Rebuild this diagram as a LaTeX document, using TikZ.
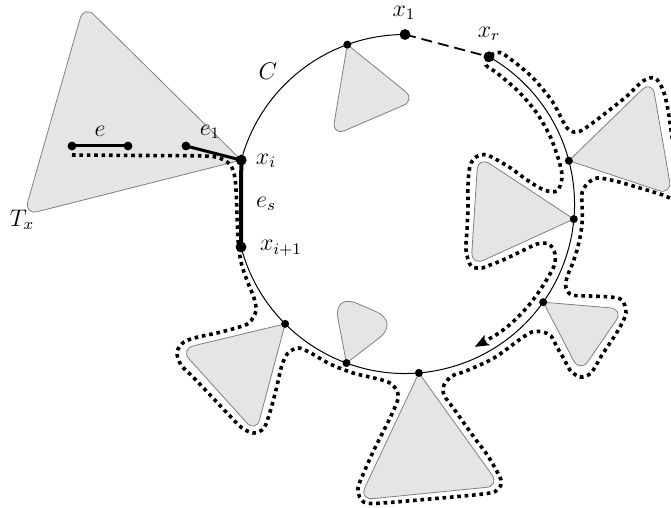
\documentclass[tikz,border=0pt]{standalone}
\usetikzlibrary{arrows.meta}
\begin{document}
\begin{tikzpicture}[x=0.5pt,y=-0.5pt,
  tri/.style={fill=gray!20, draw=gray, line width=0.4pt, rounded corners=7pt},
  circ/.style={line width=0.5pt},
  tour/.style={line width=1.8pt, dash pattern=on 1.8pt off 1.9pt},
  edgeline/.style={line width=1.5pt},
  dashline/.style={line width=0.9pt, dash pattern=on 5.5pt off 3pt},
  lbl/.style={font=\fontsize{12}{14}\selectfont, inner sep=0pt}]
\useasboundingbox (0,0) rectangle (671,508);
% points on the circle C (centre (405,204), radius 169.5)
\begin{scope}[shift={(405,204)}]
  \coordinate (x1) at (-90:169.5);
  \coordinate (xr) at (-60.3:169.5);
  \coordinate (A1) at (-109.9:169.5);
  \coordinate (xi) at (-165:169.5);
  \coordinate (xii) at (165.3:169.5);
  \coordinate (A8) at (135:169.5);
  \coordinate (A7) at (110.2:169.5);
  \coordinate (A6) at (85.3:169.5);
  \coordinate (A5) at (35.4:169.5);
  \coordinate (A4) at (5.1:169.5);
  \coordinate (A3) at (-14.8:169.5);
\end{scope}
% subtrees
\path[tri] (xi) -- (84,5) -- (24,215) -- (xi);
\path[tri] (A1) -- (416,100) -- (332,136) -- (A1);
\path[tri] (A3) -- (652,80) -- (672,195) -- (A3);
\path[tri] (A4) -- (478,156) -- (471,266) -- (A4);
\path[tri] (A5) -- (624,309) -- (580,373) -- (A5);
\path[tri] (A6) -- (359,500) -- (500,486) -- (A6);
\path[tri, rounded corners=13pt] (A7) -- (333,293) -- (400,322) -- (A7);
\path[tri] (A8) -- (180,349) -- (256,433) -- (A8);
% cycle C
\draw[circ] (x1) arc[start angle=-90, end angle=-165, radius=169.5];
\draw[circ] (xii) arc[start angle=165.3, end angle=-60.3, radius=169.5];
\draw[dashline] (x1) -- (xr);
% tour
\draw[tour, -{Stealth[length=7pt, width=5.5pt, inset=1.5pt]}] plot[smooth, tension=0.5] coordinates {
(72,155) (140,155.5) (205,156) (222,159) (231,166) (235,178) (236.5,200) (237.5,230)
(239,250) (242,266) (248,283) (254,298) (256,311) (249,323) (236,328) (217,333) (198,337)
(184,342) (177,352) (181,365) (194,378) (212,397) (229,415) (242,428) (254,433) (264,428)
(270,412) (276,390) (282,365) (288,353) (298,348) (309,352) (330,364) (353,373) (374,378)
(388,382) (396,389) (398,399) (390,418) (383,432) (373,452) (365,470) (358,488) (361,499)
(372,503.5) (430,499) (487,493.5) (498,489) (501,480) (488,456) (476,440) (466,426) (454,409)
(444,395) (444,385) (452,376) (466,371) (494,358) (519,340) (532,332) (543,332) (551,336)
(557,347) (564,359) (570,370) (580,377) (591,373) (602,355) (612,340) (620,327) (626,313)
(622,300) (610,297) (590,296) (572,295) (566,288) (567,277) (572,265) (577,250) (580.5,235)
(582.3,219.5) (582,204) (582,193) (587,184) (597,178) (615,181) (640,188) (663,195) (676,200)
(681,190) (674,150) (668,110) (663,90) (655,78) (643,81) (627,96) (607,112) (587,127) (577,132)
(567,128) (552,101) (532,77) (513,61) (500,52.5) (490,56) (486,65) (497,73) (518,91) (536,112)
(550,136) (559.5,162.6) (562,178) (557,191) (544,190) (527,180) (509,167) (487,155) (476,157)
(470,166) (468,185) (468,207) (467,230) (466,250) (471,266) (482,268) (490,265) (503,260)
(520,252) (537,244) (549,244) (555,254) (554,266) (544,284) (531,302.6) (516,319) (499,333)
(474.7,346.9)};
% edges
\coordinate (ea) at (72,146);
\coordinate (eb) at (128,146);
\coordinate (fa) at (186,146);
\draw[edgeline] (ea) -- (eb);
\draw[edgeline] (fa) -- (xi);
\draw[line width=2pt] (xi) -- (xii);
% vertices
\foreach \p in {x1,xr,xi,xii} \fill (\p) circle[radius=2.7pt];
\foreach \p in {A1,A3,A4,A5,A6,A7,A8} \fill (\p) circle[radius=2pt];
\foreach \p in {ea,eb,fa} \fill (\p) circle[radius=2.2pt];
% labels
\node[lbl] (lC) at (268,71) {$C$};
\node[lbl] (lx1) at (404,13) {$x_1$};
\node[lbl] (lxr) at (489,34) {$x_r$};
\node[lbl] (lxi) at (266,161) {$x_i$};
\node[lbl] (les) at (266,204) {$e_s$};
\node[lbl] (lxii) at (281,248) {$x_{i+1}$};
\node[lbl] (le) at (100,131) {$e$};
\node[lbl] (le1) at (210,132) {$e_1$};
\node[lbl] (lT) at (22,220) {$T_x$};
\end{tikzpicture}
\end{document}
